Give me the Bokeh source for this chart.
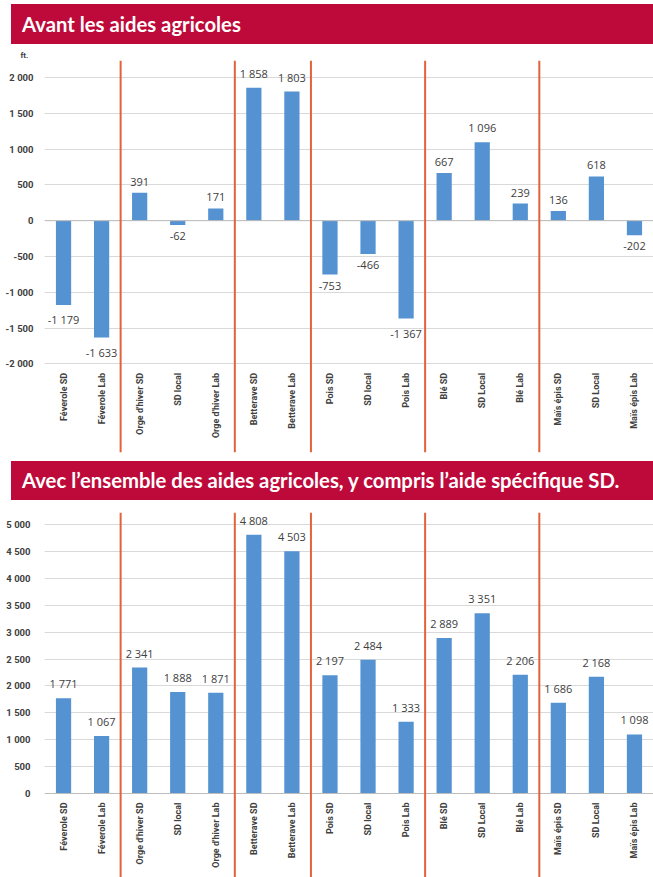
from math import pi
from bokeh.plotting import figure
from bokeh.models import Range1d, FixedTicker, Span, Div, ColumnDataSource
from bokeh.layouts import column
from bokeh.core.properties import value
from bokeh.embed import file_html
from bokeh.resources import INLINE

# ---------------- data ----------------
categories = ["Féverole SD", "Féverole Lab", "Orge d'hiver SD", "SD local", "Orge d'hiver Lab",
              "Betterave SD", "Betterave Lab", "Pois SD", "SD local", "Pois Lab",
              "Blé SD", "SD Local", "Blé Lab", "Maïs épis SD", "SD Local", "Maïs épis Lab"]
groups = ["Féverole", "Féverole", "Orge", "Orge", "Orge",
          "Betterave", "Betterave", "Pois", "Pois", "Pois",
          "Blé", "Blé", "Blé", "Maïs", "Maïs", "Maïs"]

avant = [-1179, -1633, 391, -62, 171, 1858, 1803, -753, -466, -1367,
         667, 1096, 239, 136, 618, -202]
avec = [1771, 1067, 2341, 1888, 1871, 4808, 4503, 2197, 2484, 1333,
        2889, 3351, 2206, 1686, 2168, 1098]

ticks_avant = [-2000, -1500, -1000, -500, 0, 500, 1000, 1500, 2000]
labels_avant = ["-2 000", "-1 500", "-1 000", "-500", "0", "500", "1 000", "1 500", "2 000"]
ticks_avec = [0, 500, 1000, 1500, 2000, 2500, 3000, 3500, 4000, 4500, 5000]
labels_avec = ["0", "500", "1 000", "1 500", "2 000", "2 500", "3 000", "3 500", "4 000", "4 500", "5 000"]

title_avant = "Avant les aides agricoles"
title_avec = "Avec l’ensemble des aides agricoles, y compris l’aide spécifique SD."
unit = "ft."

# ---------------- styles ----------------
W = 653
RED = "#BE0A3A"
BLUE = "#5592D2"
SEP = "#E2623A"
TXT = "#404040"


def fmt(v):
    s = f"{abs(v):,}".replace(",", " ")
    return ("-" if v < 0 else "") + s


def header(text, h, top):
    html = (f'<div style="margin-left:11px;margin-top:{top}px;width:{W - 11}px;box-sizing:border-box;'
            f'background:{RED};color:#ffffff;font-family:Lato,sans-serif;font-weight:bold;font-size:20.3px;'
            f'height:{h}px;line-height:{h}px;padding-left:11px;white-space:nowrap;overflow:hidden;">'
            f'{text}</div>')
    return Div(text=html, width=W, height=h + top, margin=0)


def chart(vals, ticks, tlabels, y0, y1, h, btop, bbottom, bleft, standoff, unit_label=""):
    n = len(categories)
    xs = list(range(n))
    p = figure(width=W, height=h, x_range=Range1d(-0.5, n - 0.5), y_range=Range1d(y0, y1),
               x_axis_location=None, output_backend="svg", toolbar_location=None,
               min_border_top=btop, min_border_bottom=bbottom, min_border_left=bleft,
               min_border_right=0)
    p.outline_line_color = None
    p.background_fill_color = "white"
    p.title.text = unit_label
    p.title.align = "left"
    p.title.offset = -24
    p.title.standoff = 1
    p.title.text_font = "Roboto"
    p.title.text_font_style = "bold"
    p.title.text_font_size = "8px"
    p.title.text_color = TXT
    p.yaxis.ticker = FixedTicker(ticks=ticks)
    p.yaxis.major_label_overrides = {t: l for t, l in zip(ticks, tlabels)}
    p.yaxis.axis_line_color = None
    p.yaxis.major_tick_line_color = None
    p.yaxis.minor_tick_line_color = None
    p.yaxis.major_label_standoff = standoff
    p.yaxis.major_label_text_font = "Roboto"
    p.yaxis.major_label_text_font_style = "bold"
    p.yaxis.major_label_text_font_size = "9.5px"
    p.yaxis.major_label_text_color = TXT
    p.ygrid.grid_line_color = "#D9D9D9"
    p.xgrid.visible = False

    p.add_layout(Span(location=0, dimension="width", line_color="#BDBDBD", line_width=1))

    p.vbar(x=xs, top=vals, bottom=0, width=0.4, fill_color=BLUE, line_color=None)

    for i in range(1, n):
        if groups[i] != groups[i - 1]:
            p.add_layout(Span(location=i - 0.5, dimension="height", line_color=SEP, line_width=2))

    pos = ColumnDataSource(dict(x=[x for x, v in zip(xs, vals) if v >= 0],
                                y=[v for v in vals if v >= 0],
                                t=[fmt(v) for v in vals if v >= 0]))
    neg = ColumnDataSource(dict(x=[x for x, v in zip(xs, vals) if v < 0],
                                y=[v for v in vals if v < 0],
                                t=[fmt(v) for v in vals if v < 0]))
    common = dict(text="t", text_font=value("Open Sans"), text_font_size="11px",
                  text_color=TXT, text_align="center")
    p.text(x="x", y="y", source=pos, text_baseline="bottom", y_offset=-7, **common)
    p.text(x="x", y="y", source=neg, text_baseline="top", y_offset=7, **common)

    p.text(x=xs, y=[ticks[0]] * n, text=categories, angle=pi / 2, text_align="right",
           text_baseline="middle", y_offset=9, text_font=value("Roboto"),
           text_font_style="bold", text_font_size="9px", text_color=TXT)
    return p


h1 = header(title_avant, 40, 4)
c1 = chart(avant, ticks_avant, labels_avant, -3238, 2237, 417, 16, 9, 44, 5, unit_label=unit)
h2 = header(title_avec, 39, 0)
c2 = chart(avec, ticks_avec, labels_avec, -1561, 5223, 377, 12, 0, 40, 8)

layout = column(h1, c1, h2, c2, spacing=0)
open("out.html", "w").write(file_html(layout, INLINE))
